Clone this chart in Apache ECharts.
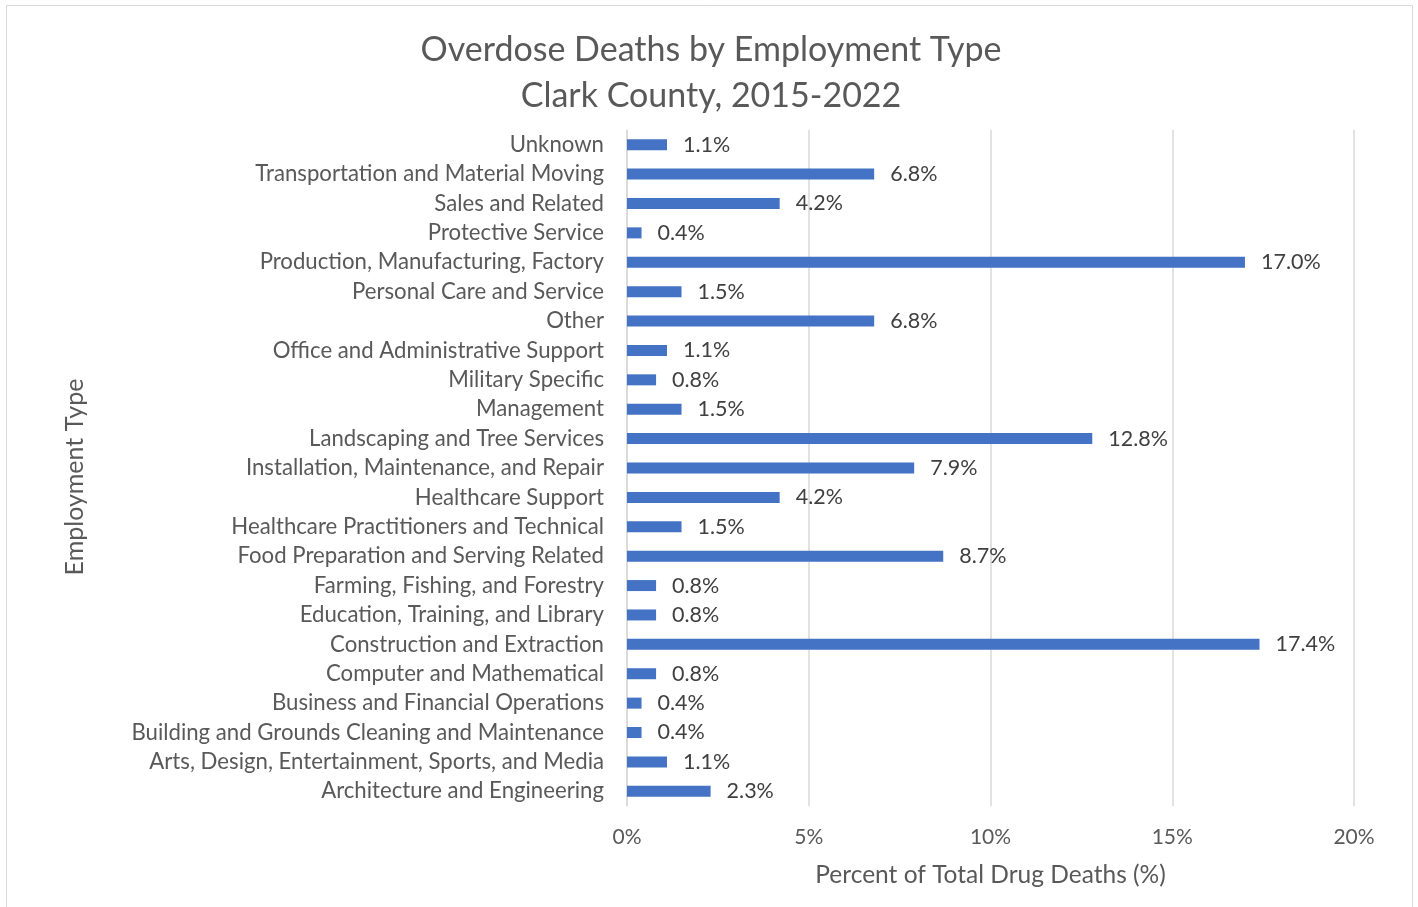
<!DOCTYPE html>
<html>
<head>
<meta charset="utf-8">
<title>Overdose Deaths by Employment Type</title>
<script src="https://cdn.jsdelivr.net/npm/echarts@6/dist/echarts.min.js"></script>
<style>
  html, body { margin: 0; padding: 0; background: #ffffff; }
  #chart { width: 1418px; height: 907px; }
</style>
</head>
<body>
<div id="chart"></div>
<script>
// Employment categories, listed bottom to top as drawn on the axis
const categories = [
  'Architecture and Engineering',
  'Arts, Design, Entertainment, Sports, and Media',
  'Building and Grounds Cleaning and Maintenance',
  'Business and Financial Operations',
  'Computer and Mathematical',
  'Construction and Extraction',
  'Education, Training, and Library',
  'Farming, Fishing, and Forestry',
  'Food Preparation and Serving Related',
  'Healthcare Practitioners and Technical',
  'Healthcare Support',
  'Installation, Maintenance, and Repair',
  'Landscaping and Tree Services',
  'Management',
  'Military Specific',
  'Office and Administrative Support',
  'Other',
  'Personal Care and Service',
  'Production, Manufacturing, Factory',
  'Protective Service',
  'Sales and Related',
  'Transportation and Material Moving',
  'Unknown'
];

// Percent of total drug deaths for each category
const percentDeaths = [
  2.3, 1.1, 0.4, 0.4, 0.8, 17.4, 0.8, 0.8, 8.7, 1.5, 4.2, 7.9,
  12.8, 1.5, 0.8, 1.1, 6.8, 1.5, 17.0, 0.4, 4.2, 6.8, 1.1
];

// Value axis ticks (percent)
const xTicks = [0, 5, 10, 15, 20];

const FONT = 'Lato';
const chart = echarts.init(document.getElementById('chart'), null, { renderer: 'canvas' });

chart.setOption({
  backgroundColor: '#ffffff',
  animation: false,
  textStyle: { fontFamily: FONT },
  title: {
    text: 'Overdose Deaths by Employment Type\nClark County, 2015-2022',
    left: 706,
    textAlign: 'center',
    top: 22,
    textStyle: {
      fontFamily: FONT,
      fontSize: 34,
      fontWeight: 'normal',
      color: '#595959',
      lineHeight: 46
    }
  },
  graphic: [{
    type: 'rect',
    shape: { x: 6.5, y: 5.5, width: 1406, height: 910 },
    style: { fill: 'none', stroke: '#d9d9d9', lineWidth: 1 },
    silent: true
  }],
  grid: {
    left: 627,
    right: 64,
    top: 130,
    bottom: 101,
    containLabel: false
  },
  xAxis: {
    type: 'value',
    min: xTicks[0],
    max: xTicks[xTicks.length - 1],
    interval: xTicks[1] - xTicks[0],
    name: 'Percent of Total Drug Deaths (%)',
    nameLocation: 'middle',
    nameGap: 57,
    nameTextStyle: { fontFamily: FONT, fontSize: 24.5, color: '#595959' },
    axisLine: { show: false },
    axisTick: { show: false },
    axisLabel: {
      fontFamily: FONT,
      fontSize: 21,
      color: '#595959',
      margin: 21,
      formatter: v => v + '%'
    },
    splitLine: { show: true, lineStyle: { color: '#d9d9d9', width: 1.5 } }
  },
  yAxis: {
    type: 'category',
    data: categories,
    name: 'Employment Type',
    nameLocation: 'middle',
    nameGap: 540,
    nameRotate: 90,
    nameTextStyle: {
      fontFamily: FONT,
      fontSize: 25,
      color: '#595959',
      padding: [0, 18, 0, 0]
    },
    axisLine: { show: true, lineStyle: { color: '#d9d9d9', width: 1.5 } },
    axisTick: { show: false },
    axisLabel: {
      fontFamily: FONT,
      fontSize: 22.2,
      color: '#595959',
      margin: 23
    },
    splitLine: { show: false }
  },
  series: [{
    type: 'bar',
    data: percentDeaths,
    barWidth: 11,
    itemStyle: { color: '#4472C4' },
    label: {
      show: true,
      position: 'right',
      distance: 16,
      fontFamily: FONT,
      fontSize: 21.5,
      color: '#404040',
      formatter: p => p.value.toFixed(1) + '%'
    }
  }]
});
</script>
</body>
</html>
